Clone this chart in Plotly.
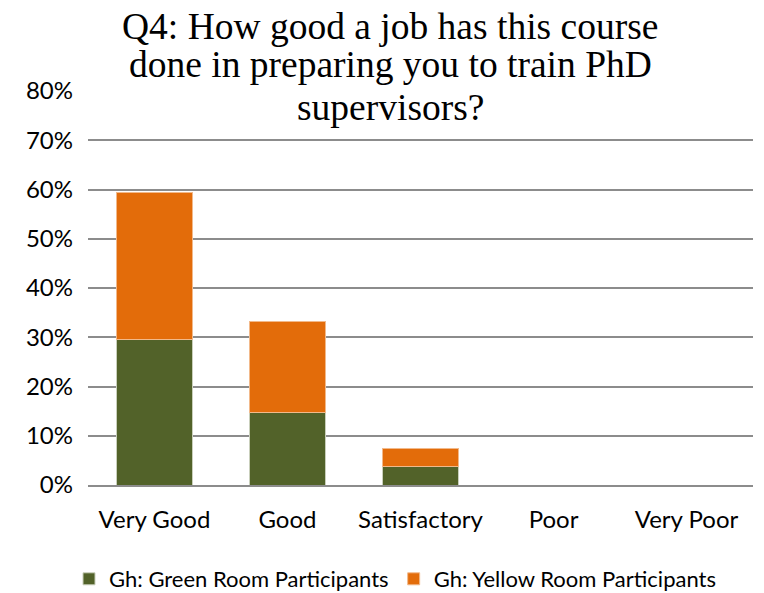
import plotly.graph_objects as go

categories = ["Very Good", "Good", "Satisfactory", "Poor", "Very Poor"]
green_room = [0.296, 0.148, 0.037, 0, 0]
yellow_room = [0.297, 0.185, 0.037, 0, 0]
tick_vals = [0, 0.1, 0.2, 0.3, 0.4, 0.5, 0.6, 0.7, 0.8]
tick_text = ["0%", "10%", "20%", "30%", "40%", "50%", "60%", "70%", "80%"]
title_lines = ["Q4: How good a job has this course", "done in preparing you to train PhD", "supervisors?"]

# page body has an 8px margin; work in page pixels and shift
OFF = 8
W, H = 764 - OFF, 593 - OFF
PL, PT, PW, PH = 88 - OFF, 91 - OFF, 665, 394

fig = go.Figure()
fig.add_trace(go.Bar(x=categories, y=green_room, name="Gh: Green Room Participants",
                     marker=dict(color="#526229", line=dict(color="#c9cfbb", width=1))))
fig.add_trace(go.Bar(x=categories, y=yellow_room, name="Gh: Yellow Room Participants",
                     marker=dict(color="#e36c0a", line=dict(color="#f2b98a", width=1))))

fig.update_layout(
    barmode="stack",
    bargap=0.43,
    width=W, height=H,
    margin=dict(l=PL, r=W - PL - PW, t=PT, b=H - PT - PH, autoexpand=False),
    paper_bgcolor="white", plot_bgcolor="white",
    font=dict(family="Lato, Open Sans, sans-serif", size=24, color="#000000"),
    showlegend=True,
    legend=dict(orientation="h", x=(395 - OFF - PL) / PW, xanchor="center",
                y=-(579 - OFF - PT - PH) / PH, yanchor="middle",
                font=dict(size=22), itemwidth=30, traceorder="normal"),
)
for line, yc in zip(title_lines, [27, 65, 108]):
    fig.add_annotation(text=line, xref="paper", yref="paper",
                       x=(390 - OFF - PL) / PW, y=1 + (PT - (yc - OFF)) / PH,
                       xanchor="center", yanchor="middle", showarrow=False,
                       font=dict(family="Liberation Serif, Times New Roman, serif", size=37.5, color="#000000"))
fig.update_yaxes(range=[0, 0.8], tickvals=tick_vals, ticktext=tick_text,
                 showgrid=True, gridcolor="#8c8c8c", gridwidth=2, automargin=False,
                 zeroline=False, showline=False, ticks="", ticklabelstandoff=14)
fig.update_xaxes(showline=True, linecolor="#8c8c8c", linewidth=2, ticks="", automargin=False,
                 ticklabelstandoff=12)

fig.write_html("out.html")
